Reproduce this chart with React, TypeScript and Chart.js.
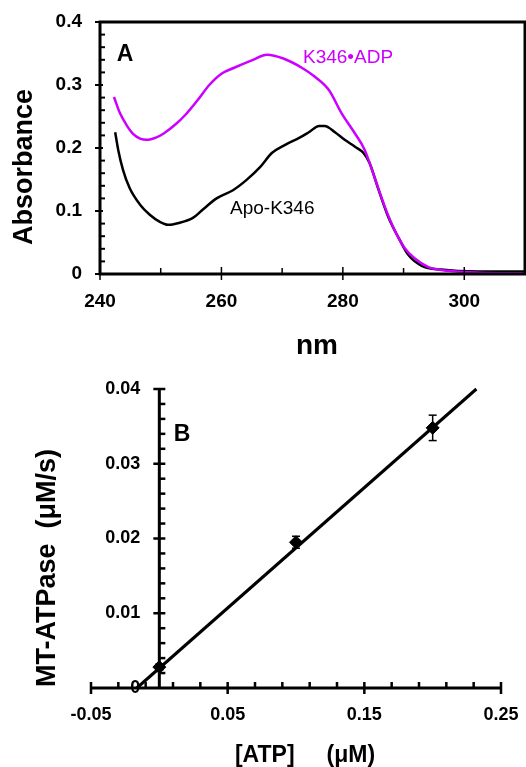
import React, { useEffect, useRef } from "react";
import { Chart, registerables } from "chart.js";
Chart.register(...registerables);

const FONT = "'Liberation Sans', Arial, sans-serif";
const MAGENTA = "#cc00ff";

// ---------- Panel A data ----------
const apoNm = [242.5, 243.0, 243.8, 244.9, 246.6, 248.2, 249.8, 251.2, 253.0, 255.3, 256.9, 259.2, 261.9, 264.1, 266.4, 268.3, 270.5, 272.8, 274.4, 276.1, 277.0, 278.7, 280.3, 282.0, 283.4, 284.4, 285.9, 287.5, 289.2, 290.8, 293.0, 296.2, 302.3, 310];
const apoAbs = [0.225, 0.197, 0.165, 0.136, 0.110, 0.094, 0.083, 0.078, 0.081, 0.089, 0.102, 0.120, 0.133, 0.149, 0.170, 0.192, 0.205, 0.216, 0.225, 0.235, 0.235, 0.225, 0.213, 0.202, 0.192, 0.176, 0.133, 0.090, 0.057, 0.030, 0.013, 0.007, 0.004, 0.004];
const adpNm = [242.3, 243.3, 244.4, 245.4, 246.6, 247.7, 249.3, 250.5, 252.5, 254.0, 256.0, 258.0, 260.0, 262.0, 265.2, 267.5, 270.2, 273.3, 275.4, 277.7, 279.8, 282.0, 283.6, 285.2, 286.9, 288.5, 290.2, 291.8, 294.1, 297.4, 302.3, 310];
const adpAbs = [0.281, 0.255, 0.236, 0.223, 0.215, 0.213, 0.217, 0.223, 0.238, 0.252, 0.275, 0.300, 0.318, 0.327, 0.340, 0.348, 0.342, 0.327, 0.313, 0.292, 0.255, 0.223, 0.197, 0.154, 0.107, 0.070, 0.041, 0.025, 0.011, 0.005, 0.002, 0.001];
const aXTicks = [240, 260, 280, 300];
const aXTickLabels = ["240", "260", "280", "300"];
const aYTicks = [0, 0.1, 0.2, 0.3, 0.4];
const aYTickLabels = ["0", "0.1", "0.2", "0.3", "0.4"];

// ---------- Panel B data ----------
const atpConc = [0, 0.1, 0.2];
const atpaseRate = [0.0028, 0.0195, 0.0348];
const atpaseErr = [0.0004, 0.0008, 0.0017];
const fitX = [-0.0165, 0.232];
const fitY = [0, 0.04];
const bXTicks = [-0.05, 0.05, 0.15, 0.25];
const bXTickLabels = ["-0.05", "0.05", "0.15", "0.25"];
const bYTicks = [0, 0.01, 0.02, 0.03, 0.04];
const bYTickLabels = ["0", "0.01", "0.02", "0.03", "0.04"];

function labelFor(ticks: number[], labels: string[]) {
  return (v: any) => {
    const i = ticks.findIndex((t) => Math.abs(t - Number(v)) < 1e-9);
    return i >= 0 ? labels[i] : "";
  };
}

function noPad(s: any) {
  s.paddingTop = 0;
  s.paddingBottom = 0;
  s.paddingLeft = 0;
  s.paddingRight = 0;
}

function seg(ctx: CanvasRenderingContext2D, x1: number, y1: number, x2: number, y2: number) {
  ctx.beginPath();
  ctx.moveTo(x1, y1);
  ctx.lineTo(x2, y2);
  ctx.stroke();
}

function text(ctx: CanvasRenderingContext2D, s: string, x: number, y: number, font: string, color: string, align: CanvasTextAlign = "center", rot = 0) {
  ctx.save();
  ctx.font = font;
  ctx.fillStyle = color;
  ctx.textAlign = align;
  ctx.textBaseline = "middle";
  ctx.translate(x, y);
  if (rot) ctx.rotate(rot);
  ctx.fillText(s, 0, 0);
  ctx.restore();
}

const panelAPlugin = {
  id: "panelA",
  afterDraw(chart: any) {
    const { ctx, chartArea: a, scales } = chart;
    const x = scales.x, y = scales.y;
    ctx.save();
    ctx.strokeStyle = "#000";
    ctx.lineWidth = 3;
    ctx.strokeRect(a.left, a.top, a.right - a.left, a.bottom - a.top);
    ctx.lineWidth = 1.5;
    aXTicks.forEach((v) => {
      const px = x.getPixelForValue(v);
      seg(ctx, px, a.bottom - 7, px, a.bottom + 6);
    });
    for (let v = 250; v < 310; v += 20) {
      const px = x.getPixelForValue(v);
      seg(ctx, px, a.bottom, px, a.bottom - 6);
    }
    ctx.lineWidth = 2;
    aYTicks.forEach((v) => {
      const py = y.getPixelForValue(v);
      seg(ctx, a.left - 5, py, a.left + 3, py);
    });
    for (let i = 1; i < 20; i++) {
      if (i % 5 === 0) continue;
      const py = y.getPixelForValue(i * 0.02);
      seg(ctx, a.left, py, a.left + 5, py);
    }
    ctx.restore();
    text(ctx, "Absorbance", 25, 167, `bold 27px ${FONT}`, "#000", "center", -Math.PI / 2);
    text(ctx, "nm", 317, 346, `bold 28px ${FONT}`, "#000");
    text(ctx, "A", 125, 55, `bold 23px ${FONT}`, "#000");
    text(ctx, "K346•ADP", 303, 58, `19px ${FONT}`, MAGENTA, "left");
    text(ctx, "Apo-K346", 230, 209, `19px ${FONT}`, "#000", "left");
  },
};

const panelBPlugin = {
  id: "panelB",
  afterDatasetsDraw(chart: any) {
    const { ctx, scales } = chart;
    const x = scales.x, y = scales.y;
    ctx.save();
    ctx.strokeStyle = "#000";
    ctx.lineWidth = 1.5;
    atpConc.forEach((c, i) => {
      const px = x.getPixelForValue(c);
      const top = y.getPixelForValue(atpaseRate[i] + atpaseErr[i]);
      const bot = y.getPixelForValue(atpaseRate[i] - atpaseErr[i]);
      seg(ctx, px, top, px, bot);
      seg(ctx, px - 4, top, px + 4, top);
      seg(ctx, px - 4, bot, px + 4, bot);
    });
    ctx.restore();
  },
  afterDraw(chart: any) {
    const { ctx, chartArea: a, scales } = chart;
    const x = scales.x, y = scales.y;
    const x0 = x.getPixelForValue(0);
    const y0 = y.getPixelForValue(0);
    ctx.save();
    ctx.strokeStyle = "#000";
    ctx.lineWidth = 3;
    seg(ctx, a.left, y0, a.right, y0);
    seg(ctx, x0, y0, x0, y.getPixelForValue(0.04) - 1);
    ctx.lineWidth = 2.5;
    bXTicks.forEach((v) => {
      const px = x.getPixelForValue(v);
      seg(ctx, px, y0 - 6, px, y0 + 6);
    });
    for (let i = 0; i < 15; i++) {
      const v = -0.03 + i * 0.02;
      if (Math.abs((v + 0.05) / 0.1 - Math.round((v + 0.05) / 0.1)) < 1e-6) continue;
      const px = x.getPixelForValue(v);
      seg(ctx, px, y0, px, y0 - 6);
    }
    bYTicks.forEach((v) => {
      if (v === 0) return;
      const py = y.getPixelForValue(v);
      seg(ctx, x0 - 6, py, x0 + 6, py);
    });
    for (let i = 1; i < 20; i++) {
      if (i % 5 === 0) continue;
      const py = y.getPixelForValue(i * 0.002);
      seg(ctx, x0, py, x0 + 6, py);
    }
    ctx.restore();
    // y tick labels of the crossing axis, placed through the y scale
    bYTicks.forEach((v, i) => {
      text(ctx, bYTickLabels[i], x0 - 19, y.getPixelForValue(v), `bold 18px ${FONT}`, "#000", "right");
    });
    text(ctx, "B", 182, 55, `bold 23px ${FONT}`, "#000");
    text(ctx, "MT-ATPase  (μM/s)", 48, 188, `bold 27px ${FONT}`, "#000", "center", -Math.PI / 2);
    text(ctx, "[ATP]     (μM)", 305, 376, `bold 23px ${FONT}`, "#000");
  },
};

function makeA(): any {
  return {
    type: "scatter",
    data: {
      datasets: [
        {
          label: "K346•ADP",
          data: adpNm.map((v, i) => ({ x: v, y: adpAbs[i] })),
          showLine: true,
          borderColor: MAGENTA,
          borderWidth: 2.5,
          pointRadius: 0,
          cubicInterpolationMode: "monotone",
        },
        {
          label: "Apo-K346",
          data: apoNm.map((v, i) => ({ x: v, y: apoAbs[i] })),
          showLine: true,
          borderColor: "#000",
          borderWidth: 2.5,
          pointRadius: 0,
          cubicInterpolationMode: "monotone",
        },
      ],
    },
    options: {
      animation: false,
      responsive: false,
      events: [],
      layout: { padding: { top: 22, right: 1, left: 0, bottom: 0 } },
      plugins: { legend: { display: false }, tooltip: { enabled: false } },
      scales: {
        x: {
          type: "linear",
          min: 240,
          max: 310,
          grid: { display: false, drawTicks: false },
          border: { display: false },
          afterBuildTicks: (s: any) => { s.ticks = aXTicks.map((v) => ({ value: v })); },
          afterFit: (s: any) => { s.height = 106; noPad(s); },
          ticks: { color: "#000", font: { family: FONT, size: 19, weight: "bold" }, padding: 16, maxRotation: 0, callback: labelFor(aXTicks, aXTickLabels) },
        },
        y: {
          type: "linear",
          min: 0,
          max: 0.4,
          grid: { display: false, drawTicks: false },
          border: { display: false },
          afterBuildTicks: (s: any) => { s.ticks = aYTicks.map((v) => ({ value: v })); },
          afterFit: (s: any) => { s.width = 100; noPad(s); },
          ticks: { color: "#000", font: { family: FONT, size: 19, weight: "bold" }, padding: 18, callback: labelFor(aYTicks, aYTickLabels) },
        },
      },
    },
    plugins: [panelAPlugin],
  };
}

function makeB(): any {
  return {
    type: "scatter",
    data: {
      datasets: [
        {
          label: "MT-ATPase",
          data: atpConc.map((v, i) => ({ x: v, y: atpaseRate[i] })),
          pointStyle: "rectRot",
          pointRadius: 6.5,
          backgroundColor: "#000",
          borderColor: "#000",
          clip: false,
        },
        {
          label: "fit",
          data: fitX.map((v, i) => ({ x: v, y: fitY[i] })),
          showLine: true,
          borderColor: "#000",
          borderWidth: 3,
          pointRadius: 0,
          clip: false,
        },
      ],
    },
    options: {
      animation: false,
      responsive: false,
      events: [],
      layout: { padding: { top: 9, right: 25, left: 0, bottom: 0 } },
      plugins: { legend: { display: false }, tooltip: { enabled: false } },
      scales: {
        x: {
          type: "linear",
          position: "bottom",
          min: -0.05,
          max: 0.25,
          grid: { display: false, drawTicks: false },
          border: { display: false },
          afterBuildTicks: (s: any) => { s.ticks = bXTicks.map((v) => ({ value: v })); },
          afterFit: (s: any) => { s.height = 79; noPad(s); },
          ticks: { color: "#000", font: { family: FONT, size: 18, weight: "bold" }, padding: 16, maxRotation: 0, callback: labelFor(bXTicks, bXTickLabels) },
        },
        y: {
          type: "linear",
          position: "left",
          min: 0,
          max: 0.04,
          grid: { display: false, drawTicks: false },
          border: { display: false },
          afterBuildTicks: (s: any) => { s.ticks = bYTicks.map((v) => ({ value: v })); },
          afterFit: (s: any) => { s.width = 91; noPad(s); },
          ticks: { display: false },
        },
      },
    },
    plugins: [panelBPlugin],
  };
}

export default function App() {
  const topRef = useRef<HTMLCanvasElement>(null);
  const botRef = useRef<HTMLCanvasElement>(null);
  useEffect(() => {
    const c1 = new Chart(topRef.current as HTMLCanvasElement, makeA());
    const c2 = new Chart(botRef.current as HTMLCanvasElement, makeB());
    return () => {
      c1.destroy();
      c2.destroy();
    };
  }, []);
  return (
    <div style={{ position: "absolute", left: 0, top: 0, width: 526, height: 767, background: "#fff" }}>
      <canvas ref={topRef} width={526} height={380} style={{ display: "block", width: 526, height: 380 }} />
      <canvas ref={botRef} width={526} height={387} style={{ display: "block", width: 526, height: 387 }} />
    </div>
  );
}
